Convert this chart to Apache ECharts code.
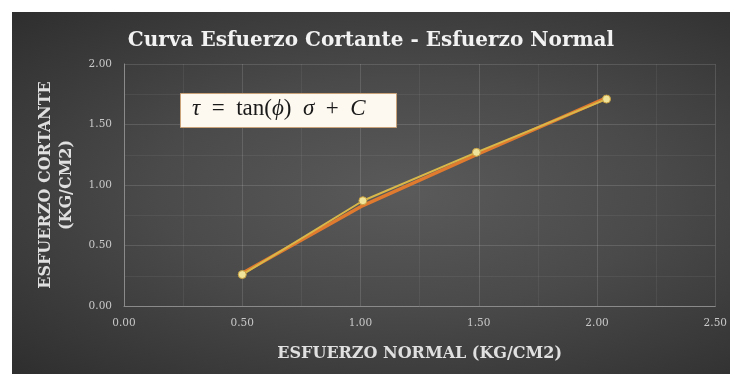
<!DOCTYPE html>
<html>
<head>
<meta charset="utf-8">
<script src="https://cdn.jsdelivr.net/npm/echarts@6/dist/echarts.min.js"></script>
<style>
html,body{margin:0;padding:0;background:#ffffff;}
#wrap{position:absolute;left:12px;top:12px;width:718px;height:362px;
background:radial-gradient(ellipse at 55% 50%, #5a5a5a 0%, #4a4a4a 45%, #2e2e2e 100%);}
#chart{width:718px;height:362px;}
</style>
</head>
<body>
<div id="wrap"><div id="chart"></div></div>
<script>
var titleText = 'Curva Esfuerzo Cortante - Esfuerzo Normal';
var xAxisName = 'ESFUERZO NORMAL (KG/CM2)';
var yAxisName = 'ESFUERZO CORTANTE\n(KG/CM2)';
var normalStress = [0.50, 1.01, 1.49, 2.04];
var shearStress = [0.26, 0.87, 1.27, 1.71];
var trendX = [0.50, 1.01, 1.49, 2.04];
var trendY = [0.27, 0.83, 1.25, 1.72];
var xTicks = [0, 0.5, 1.0, 1.5, 2.0, 2.5];
var yTicks = [0, 0.5, 1.0, 1.5, 2.0];

var dataPts = normalStress.map(function(x,i){return [x, shearStress[i]];});
var trendPts = trendX.map(function(x,i){return [x, trendY[i]];});

var chart = echarts.init(document.getElementById('chart'), null, {renderer:'canvas'});
var serif = '"DejaVu Serif", "Liberation Serif", serif';
var lserif = '"Liberation Serif", "Times New Roman", serif';
chart.setOption({
  backgroundColor: 'transparent',
  title: {
    text: titleText, left: 'center', top: 14,
    textStyle: {color:'#f2f2f2', fontFamily: serif, fontWeight:'bold', fontSize:20}
  },
  grid: {left: 112, right: 6, top: 52, bottom: 68},
  xAxis: {
    type:'value', min: xTicks[0], max: xTicks[xTicks.length-1], interval: 0.5,
    name: xAxisName, nameLocation:'middle', nameGap: 40,
    nameTextStyle: {color:'#e0e0e0', fontFamily: serif, fontWeight:'bold', fontSize:16},
    axisLine: {show:true, lineStyle:{color:'#8a8a8a', width:1}},
    axisTick: {show:false},
    axisLabel: {color:'#c8c8c8', fontFamily: serif, fontSize:10.5, margin:12,
      formatter: function(v){return v.toFixed(2);}},
    splitLine: {show:true, lineStyle:{color:'rgba(255,255,255,0.13)'}},
    minorTick:{show:false, splitNumber:2},
    minorSplitLine:{show:true, lineStyle:{color:'rgba(255,255,255,0.06)'}}
  },
  yAxis: {
    type:'value', min: yTicks[0], max: yTicks[yTicks.length-1], interval: 0.5,
    name: yAxisName, nameLocation:'middle', nameGap: 46, nameRotate: 90,
    nameTextStyle: {color:'#e0e0e0', fontFamily: serif, fontWeight:'bold', fontSize:16, lineHeight:21},
    axisLine: {show:true, lineStyle:{color:'#8a8a8a', width:1}},
    axisTick: {show:false},
    axisLabel: {color:'#c8c8c8', fontFamily: serif, fontSize:10.5, margin:12,
      formatter: function(v){return v.toFixed(2);}},
    splitLine: {show:true, lineStyle:{color:'rgba(255,255,255,0.13)'}},
    minorTick:{show:false, splitNumber:2},
    minorSplitLine:{show:true, lineStyle:{color:'rgba(255,255,255,0.06)'}}
  },
  series: [
    {
      type:'line', data: trendPts, symbol:'none', z:2,
      lineStyle:{color:'#e07a2e', width:3.5}
    },
    {
      type:'line', data: dataPts, symbol:'circle', symbolSize:8, z:3,
      lineStyle:{color:'#d9b84a', width:2},
      itemStyle:{color:'#f0e39a', borderColor:'#c8a040', borderWidth:1}
    }
  ],
  graphic: [
    {
      type:'rect', left: 168, top: 81, z: 10,
      shape:{x:0,y:0,width:216,height:34},
      style:{fill:'#fdf8f0', stroke:'#c9a27a', lineWidth:1}
    },
    {
      type:'text', left: 180, top: 85, z: 11,
      style:{
        text: '{i|τ}{n|  =  tan(}{i|ϕ}{n|)  }{i|σ}{n|  +  }{i|C}',
        rich: {
          i: {fontFamily: lserif, fontStyle:'italic', fontSize:23, fill:'#1a1a1a'},
          n: {fontFamily: lserif, fontSize:23, fill:'#1a1a1a'}
        }
      }
    }
  ]
});
</script>
</body>
</html>
